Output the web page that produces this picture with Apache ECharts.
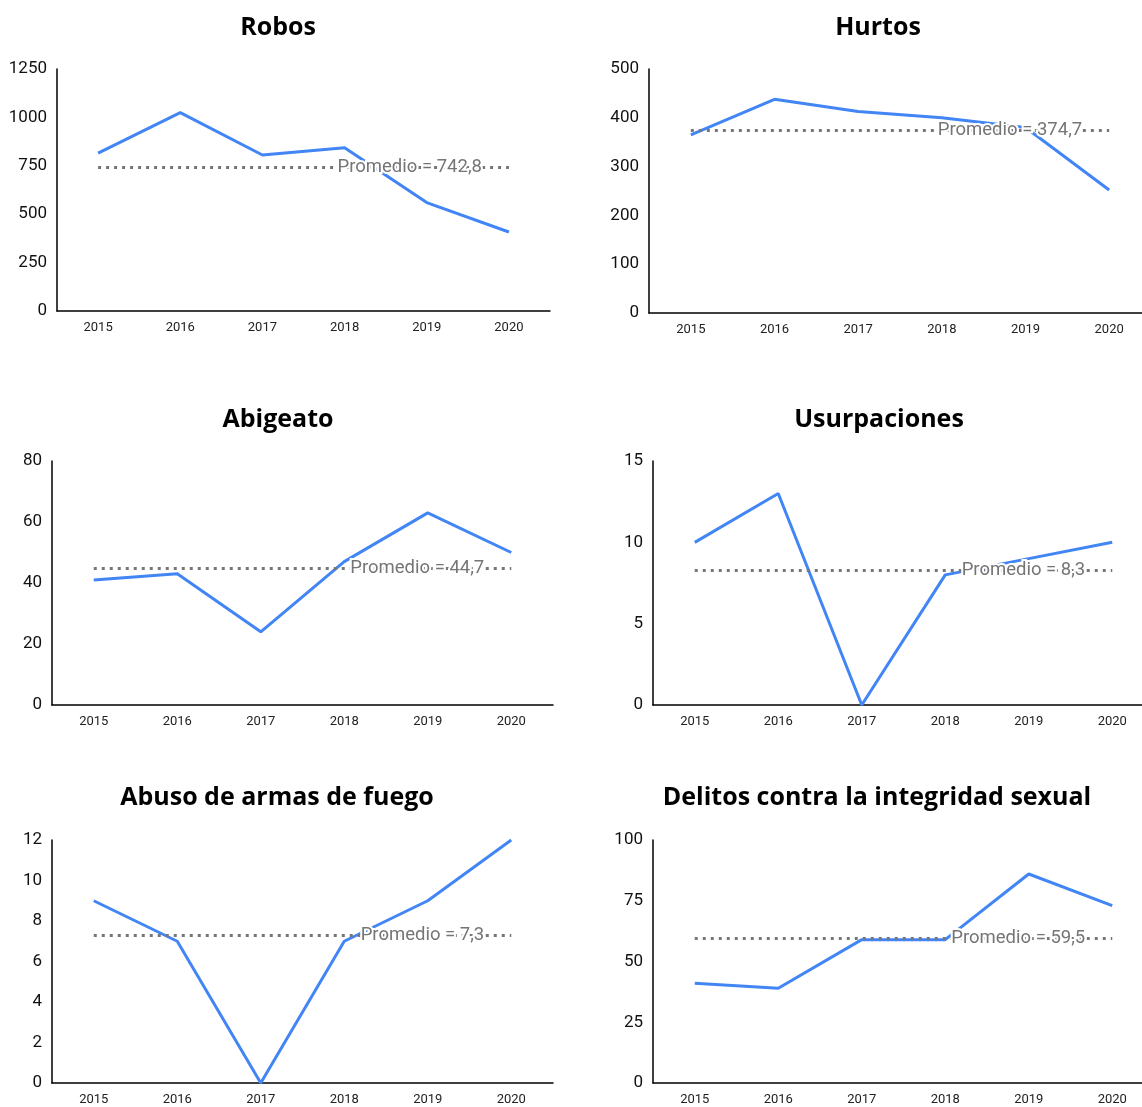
<!DOCTYPE html>
<html>
<head>
<meta charset="utf-8">
<script src="https://cdn.jsdelivr.net/npm/echarts@6/dist/echarts.min.js"></script>
<style>
html,body{margin:0;padding:0;background:#fff;}
#chart{width:1142px;height:1107px;}
</style>
</head>
<body>
<div id="chart"></div>
<script>
const years = ['2015','2016','2017','2018','2019','2020'];

const titles = ['Robos','Hurtos','Abigeato','Usurpaciones','Abuso de armas de fuego','Delitos contra la integridad sexual'];

const robos = [815, 1025, 806, 843, 560, 408];
const hurtos = [365, 438, 413, 400, 380, 252];
const abigeato = [41, 43, 24, 47, 63, 50];
const usurpaciones = [10, 13, 0, 8, 9, 10];
const abusoArmas = [9, 7, 0, 7, 9, 12];
const delitosSexual = [41, 39, 59, 59, 86, 73];

const promedios = [742.8, 374.7, 44.7, 8.3, 7.3, 59.5];
const promedioLabels = ['742,8', '374,7', '44,7', '8,3', '7,3', '59,5'];

const yMax = [1250, 500, 80, 15, 12, 100];
const yInterval = [250, 100, 20, 5, 2, 25];

const seriesData = [robos, hurtos, abigeato, usurpaciones, abusoArmas, delitosSexual];

// layout (pixels)
const grids = [
  {left: 57, top: 69, width: 493, height: 242},
  {left: 649, top: 69, width: 502, height: 244},
  {left: 52, top: 461, width: 501, height: 244},
  {left: 653, top: 461, width: 501, height: 244},
  {left: 52, top: 840, width: 501, height: 243},
  {left: 653, top: 840, width: 501, height: 243}
];
const titlePos = [
  {x: 278, y: 26}, {x: 878, y: 26},
  {x: 278, y: 418}, {x: 879, y: 418},
  {x: 277, y: 796}, {x: 877, y: 796}
];
const titleSize = 25;

const chart = echarts.init(document.getElementById('chart'), null, {renderer: 'canvas'});

const option = {
  backgroundColor: '#ffffff',
  animation: false,
  title: titles.map((t, i) => ({
    text: t,
    left: titlePos[i].x,
    top: titlePos[i].y - 11,
    textAlign: 'center',
    padding: 0,
    textStyle: {
      fontFamily: 'Open Sans',
      fontWeight: 'bold',
      fontSize: titleSize,
      color: '#000000'
    }
  })),
  grid: grids.map(g => Object.assign({containLabel: false, outerBoundsMode: 'none'}, g)),
  xAxis: grids.map((g, i) => ({
    type: 'category',
    gridIndex: i,
    data: years,
    boundaryGap: true,
    axisLine: {show: true, lineStyle: {color: '#000', width: 1.5}},
    axisTick: {show: false},
    splitLine: {show: false},
    axisLabel: {
      fontFamily: 'Roboto',
      fontSize: 13,
      color: '#222',
      margin: 10
    }
  })),
  yAxis: grids.map((g, i) => ({
    type: 'value',
    gridIndex: i,
    min: 0,
    max: yMax[i],
    interval: yInterval[i],
    axisLine: {show: true, lineStyle: {color: '#000', width: 1.5}},
    axisTick: {show: false},
    splitLine: {show: false},
    axisLabel: {
      fontFamily: 'Roboto',
      fontSize: 17,
      color: '#111',
      margin: 10,
      formatter: v => String(v)
    }
  })),
  series: seriesData.map((d, i) => ({
    type: 'line',
    xAxisIndex: i,
    yAxisIndex: i,
    data: d,
    symbol: 'none',
    lineStyle: {color: '#4285F4', width: 3},
    itemStyle: {color: '#4285F4'},
    markLine: {
      silent: true,
      symbol: ['none', 'none'],
      z: 5,
      lineStyle: {color: '#777777', width: 3, type: [3, 5]},
      label: {
        show: true,
        position: 'insideEnd',
        distance: [27, 0],
        formatter: 'Promedio = ' + promedioLabels[i],
        fontFamily: 'Roboto',
        fontSize: 18.5,
        color: '#757575',
        textBorderColor: '#ffffff',
        textBorderWidth: 4
      },
      data: [[
        {coord: [years[0], promedios[i]]},
        {coord: [years[years.length - 1], promedios[i]]}
      ]]
    }
  }))
};

chart.setOption(option);
</script>
</body>
</html>
